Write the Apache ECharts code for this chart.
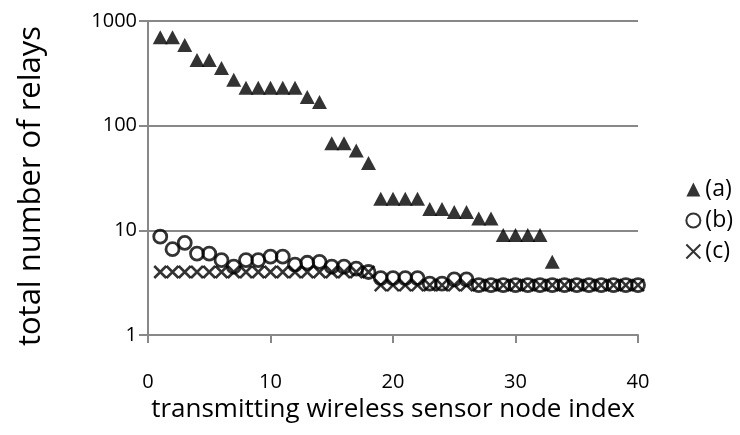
<!DOCTYPE html>
<html>
<head>
<meta charset="utf-8">
<script src="https://cdn.jsdelivr.net/npm/echarts@6/dist/echarts.min.js"></script>
<style>
  html, body { margin: 0; padding: 0; background: #fff; }
  #chart { width: 740px; height: 435px; }
</style>
</head>
<body>
<div id="chart"></div>
<script>
// node index (x) and relay counts
const nodeIdx = [1, 2, 3, 4, 5, 6, 7, 8, 9, 10, 11, 12, 13, 14, 15, 16, 17, 18, 19, 20,
  21, 22, 23, 24, 25, 26, 27, 28, 29, 30, 31, 32, 33, 34, 35, 36, 37, 38, 39, 40]
const seriesA = [700, 700, 590, 425, 425, 355, 275, 230, 230, 230, 230, 230, 188, 168, 68, 68, 58, 44, 20, 20,
  20, 20, 16, 16, 15, 15, 13, 13, 9, 9, 9, 9, 5]
const seriesB = [8.7, 6.6, 7.6, 6.0, 6.0, 5.2, 4.5, 5.2, 5.2, 5.6, 5.6, 4.7, 4.9, 5.0, 4.5, 4.5, 4.3, 4.0, 3.5, 3.5,
  3.5, 3.5, 3.1, 3.1, 3.4, 3.4, 3, 3, 3, 3, 3, 3, 3, 3, 3, 3, 3, 3, 3, 3]
const seriesC = [4, 4, 4, 4, 4, 4, 4, 4, 4, 4, 4, 4, 4, 4, 4, 4, 4, 4, 3, 3,
  3, 3, 3, 3, 3, 3, 3, 3, 3, 3, 3, 3, 3, 3, 3, 3, 3, 3, 3, 3]
const seriesNames = ['(a)', '(b)', '(c)']
const xTicks = [0, 10, 20, 30, 40]
const yTicks = [1, 10, 100, 1000]

function pairs(vals) {
  return vals.map((v, i) => [nodeIdx[i], v])
}

const font = '"Open Sans", sans-serif'
const axisGray = '#888888'
const crossPath = 'path://M0,0L10,10M10,0L0,10'

const chart = echarts.init(document.getElementById('chart'))
chart.setOption({
  animation: false,
  textStyle: { fontFamily: font },
  grid: { left: 148, right: 102, top: 21, bottom: 100 },
  legend: {
    orient: 'vertical',
    right: 2,
    top: 173,
    itemGap: 8,
    itemWidth: 14,
    itemHeight: 14,
    textStyle: { fontSize: 23, color: '#000', fontFamily: font },
    data: seriesNames
  },
  xAxis: {
    type: 'value',
    min: 0,
    max: 40,
    interval: 10,
    name: 'transmitting wireless sensor node index',
    nameLocation: 'middle',
    nameGap: 61,
    nameTextStyle: { fontSize: 26, color: '#000', fontFamily: font },
    axisLine: { lineStyle: { color: axisGray, width: 2 } },
    axisTick: { show: true, length: 8, lineStyle: { color: axisGray, width: 2 } },
    axisLabel: { margin: 37, fontSize: 20, color: '#000', formatter: v => xTicks.includes(v) ? String(v) : '' },
    splitLine: { show: false }
  },
  yAxis: {
    type: 'log',
    logBase: 10,
    min: 1,
    max: 1000,
    name: 'total number of relays',
    nameLocation: 'middle',
    nameGap: 101,
    nameTextStyle: { fontSize: 31, color: '#000', fontFamily: font, padding: [0, 16, 0, 0] },
    axisLine: { show: true, lineStyle: { color: axisGray, width: 2 } },
    axisTick: { show: true, length: 9, lineStyle: { color: axisGray, width: 2 } },
    axisLabel: { margin: 11, fontSize: 20, color: '#000', formatter: v => yTicks.includes(Math.round(v)) ? String(Math.round(v)) : '' },
    splitLine: { show: true, lineStyle: { color: axisGray, width: 2 } }
  },
  series: [
    {
      name: seriesNames[0],
      type: 'scatter',
      symbol: 'triangle',
      symbolSize: [15, 14],
      itemStyle: { color: '#000' },
      data: pairs(seriesA),
      z: 3
    },
    {
      name: seriesNames[1],
      type: 'scatter',
      symbol: 'circle',
      symbolSize: 13,
      itemStyle: { color: 'rgba(0,0,0,0)', borderColor: '#000', borderWidth: 2.8 },
      data: pairs(seriesB),
      z: 2
    },
    {
      name: seriesNames[2],
      type: 'scatter',
      symbol: crossPath,
      symbolSize: 12,
      itemStyle: { color: 'rgba(0,0,0,0)', borderColor: '#000', borderWidth: 2.6 },
      data: pairs(seriesC),
      z: 2
    }
  ]
})
</script>
</body>
</html>
